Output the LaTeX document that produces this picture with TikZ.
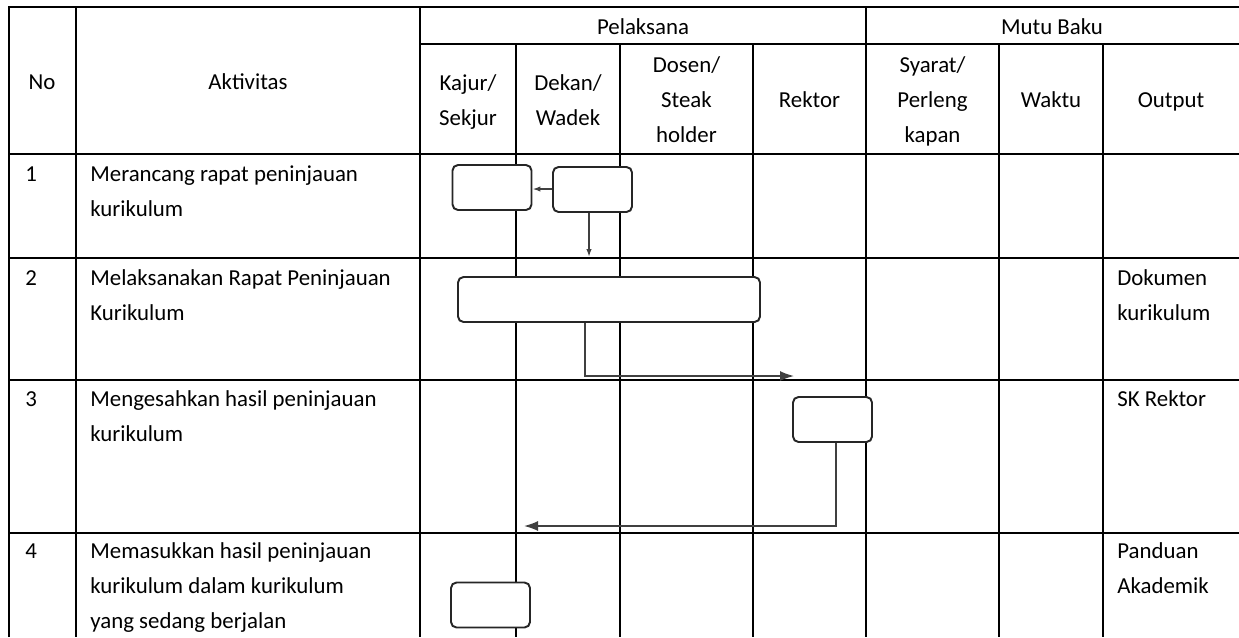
\documentclass[tikz,border=0pt]{standalone}
\usepackage{fontspec}
\setmainfont{Carlito}
\usetikzlibrary{arrows.meta}

\begin{document}
\begin{tikzpicture}[x=0.2mm,y=-0.2mm,
  grid/.style={line width=1.4pt,black},
  head/.style={inner sep=0pt,anchor=base,align=center,font=\fontsize{13}{19.9}\selectfont},
  body/.style={inner sep=0pt,anchor=base west,align=left,font=\fontsize{13}{19.9}\selectfont},
  box/.style={draw=black!85,line width=1.1pt,rounded corners=1.1mm,fill=white,
    minimum width=15.8mm,minimum height=9mm,inner sep=0pt},
  conn/.style={draw=black!75,line width=0.9pt},
  big/.style={-{Latex[length=2.8mm,width=2mm]}},
  small/.style={-{Latex[length=1.6mm,width=1.1mm]}}]
\useasboundingbox (0,0) rectangle (1239,637);
% table
\draw[grid] (9,637) -- (9,7) -- (1239,7);
\draw[grid] (420,44) -- (1239,44);
\foreach \y in {154,258,380,533}
   \draw[grid] (9,\y) -- (1239,\y);
\foreach \x in {76,420,866}
   \draw[grid] (\x,7) -- (\x,637);
\foreach \x in {516,620,753,999,1103}
   \draw[grid] (\x,44) -- (\x,637);
% header (base = last line)
\node[head] (no) at (42,89) {No};
\node[head] (akt) at (248,89) {Aktivitas};
\node[head] (pel) at (643,34) {Pelaksana};
\node[head] (mutu) at (1052,34) {Mutu Baku};
\node[head] (kajur) at (468,125) {Kajur/\\Sekjur};
\node[head] (dekan) at (568,125) {Dekan/\\Wadek};
\node[head] (dosen) at (686.5,142) {Dosen/\\Steak\\holder};
\node[head] (rektorh) at (809.5,107) {Rektor};
\node[head] (syarat) at (932.5,142) {Syarat/\\Perleng\\kapan};
\node[head] (waktu) at (1051,107) {Waktu};
\node[head] (output) at (1171,107) {Output};
% rows
\node[body] (n1) at (25,181) {1};
\node[body] (n2) at (25,285) {2};
\node[body] (n3) at (25,406) {3};
\node[body] (n4) at (25,558) {4};
\node[body] (a1) at (90,216) {Merancang rapat peninjauan\\kurikulum};
\node[body] (a2) at (90,320) {Melaksanakan Rapat Peninjauan\\Kurikulum};
\node[body] (a3) at (90,441) {Mengesahkan hasil peninjauan\\kurikulum};
\node[body] (a4) at (90,628) {Memasukkan hasil peninjauan\\kurikulum dalam kurikulum\\yang sedang berjalan};
\node[body] (o2) at (1117,320) {Dokumen\\kurikulum};
\node[body] (o3) at (1117,406) {SK Rektor};
\node[body] (o4) at (1117,593) {Panduan\\Akademik};
% flow
\node[box] (kajura) at (492,187.5) {};
\node[box] (dekana) at (592.5,189.5) {};
\node[box,minimum width=60.4mm] (rapat) at (609,299.5) {};
\node[box] (rektor) at (832.5,419.5) {};
\node[box] (kajurb) at (490.5,605) {};
\coordinate (row2) at (589,257);
\coordinate (bend2) at (585,376);
\coordinate (torektor) at (794,376);
\coordinate (bend3) at (836,526);
\coordinate (tokajur) at (524,526);
\draw[conn,small] (dekana.west |- 0,189) -- (kajura.east |- 0,189);
\draw[conn,small] (dekana.south -| row2) -- (row2);
\draw[conn,big] (rapat.south -| bend2) -- (bend2) -- (torektor);
\draw[conn,big] (rektor.south -| bend3) -- (bend3) -- (tokajur);
\end{tikzpicture}
\end{document}
